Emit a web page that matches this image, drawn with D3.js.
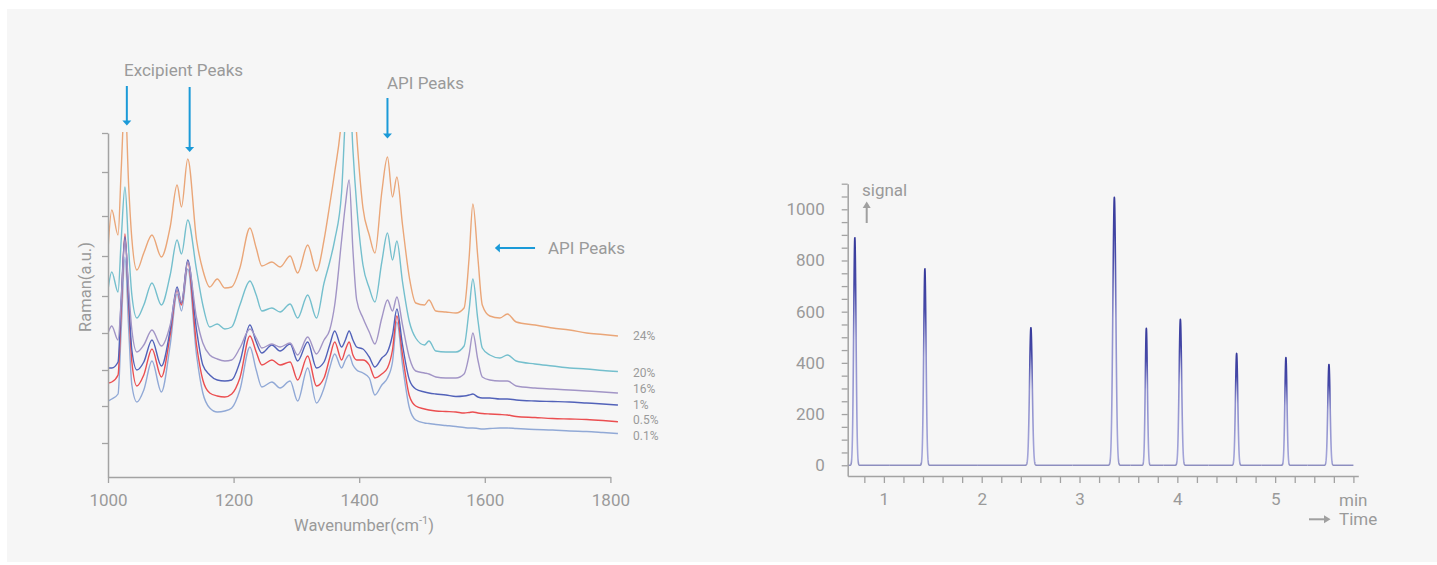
<!DOCTYPE html>
<html>
<head>
<meta charset="utf-8">
<script src="https://cdn.jsdelivr.net/npm/d3@7"></script>
<style>
  html, body { margin: 0; padding: 0; background: #ffffff; }
  svg { display: block; font-family: Roboto, "Noto Sans", sans-serif; }
</style>
</head>
<body>
<svg id="chart" width="1437" height="565"></svg>
<script>
// ---------- Raman spectra (relative intensity, a.u.) ----------
const wavenumbers = [1000, 1006, 1016, 1021, 1027, 1033, 1038, 1046, 1057, 1070,
  1085, 1099, 1110, 1117, 1127, 1141, 1151, 1162, 1174, 1186,
  1197, 1210, 1226, 1236, 1245, 1261, 1274, 1290, 1302, 1318,
  1332, 1344, 1353, 1361, 1372, 1378, 1384, 1390, 1396, 1406,
  1416, 1425, 1436, 1445, 1453, 1460, 1469, 1480, 1490, 1504,
  1511, 1522, 1538, 1554, 1567, 1575, 1581, 1589, 1596, 1608,
  1624, 1636, 1650, 1680, 1708, 1735, 1762, 1788, 1812];

const api24 = [227, 267, 242, 307, 380, 290, 238, 207, 224, 242,
  220, 250, 292, 270, 318, 237, 207, 190, 198, 189,
  190, 209, 249, 229, 211, 215, 210, 221, 204, 232,
  206, 237, 272, 305, 360, 420, 450, 400, 342, 269,
  242, 224, 285, 320, 280, 300, 252, 199, 174, 172,
  177, 166, 165, 164, 169, 219, 273, 219, 172, 161,
  159, 163, 155, 152, 149, 147, 144, 142.5, 141];

const api20 = [187, 205, 185, 237, 290, 227, 182, 159, 172, 194,
  172, 202, 237, 223, 257, 207, 172, 150, 153, 148,
  150, 172, 196, 182, 166, 169, 165, 173, 159, 182,
  159, 194, 215, 237, 285, 360, 400, 327, 272, 212,
  189, 175, 215, 244, 217, 236, 195, 155, 139, 132,
  136, 126, 125, 125, 131, 167, 198, 157, 129, 122,
  119, 122, 116, 113, 111, 109, 108, 106.5, 105.5];

const api16 = [144, 151, 137, 177, 237, 187, 147, 125, 132, 147,
  131, 152, 187, 175, 215, 159, 134, 122, 118, 116,
  117, 129, 148, 139, 129, 133, 130, 134, 122, 140,
  123, 137, 147, 172, 237, 272, 297, 227, 177, 159,
  145, 133, 159, 177, 166, 180, 152, 119, 106, 104,
  103, 100, 99, 99, 103, 122, 144, 117, 100, 97,
  96, 96, 91, 89, 88, 87, 86, 85, 84];

const api1 = [109, 109, 115, 177, 240, 177, 127, 107, 115, 137,
  111, 147, 190, 174, 217, 147, 112, 102, 97, 96,
  97, 115, 152, 135, 124, 132, 126, 133, 116, 135,
  109, 115, 132, 146, 130, 137, 146, 137, 130, 128,
  120, 110, 119, 125, 142, 168, 132, 97, 88, 85,
  84, 83, 82, 80.5, 81, 82, 83, 80, 79, 79,
  78, 78, 77, 76, 75.5, 75, 74, 73, 72];

const api05 = [94, 95, 102, 167, 243, 172, 115, 91, 102, 128,
  100, 142, 187, 172, 215, 132, 97, 84, 81, 80,
  83, 99, 141, 125, 112, 117, 112, 115, 97, 121,
  91, 99, 119, 135, 117, 127, 135, 122, 117, 117,
  112, 99, 103, 109, 127, 161, 122, 81, 71, 68,
  67, 66, 65.5, 65, 64, 64.5, 65, 64, 63.5, 63,
  62.5, 62, 60.5, 59.5, 58.5, 58, 57.5, 56.5, 55.3];

const api01 = [76, 78, 83, 147, 220, 147, 92, 75, 87, 116,
  85, 132, 183, 166, 208, 122, 84, 69, 65, 66,
  69, 87, 130, 107, 90, 95, 89, 96, 76, 109,
  74, 89, 109, 123, 109, 117, 122, 112, 107, 104,
  99, 82, 92, 99, 115, 155, 112, 69, 57, 54,
  53.5, 52.5, 51.5, 50.5, 49.5, 49, 49, 48.5, 48, 48.5,
  49, 49, 48.5, 47.5, 47, 46, 45.5, 44.5, 43.5];

const concentrations = ["24%", "20%", "16%", "1%", "0.5%", "0.1%"];
const ramanTicksX = [1000, 1200, 1400, 1600, 1800];
const ramanTicksY = [34, 71, 107, 144, 181, 221, 261, 305, 344];

// ---------- Chromatogram ----------
const retentionTimes = [0.703, 1.419, 2.503, 3.356, 3.683, 4.031, 4.606, 5.110, 5.550];
const peakHeights    = [890, 768, 538, 1047, 535, 570, 437, 421, 394];
const peakWidths     = [0.012, 0.012, 0.014, 0.015, 0.011, 0.013, 0.012, 0.011, 0.012];
const timeTicks      = [0.8, 1, 1.2, 1.4, 1.6, 1.8, 2, 2.2, 2.4, 2.6, 2.8, 3, 3.2, 3.4, 3.6,
                        3.8, 4, 4.2, 4.4, 4.6, 4.8, 5, 5.2, 5.4, 5.6, 5.8];
const signalTicks    = d3.range(0, 1101, 50);

// ---------- drawing ----------
const svg = d3.select("#chart");
const TEXT = "#9a9a9a";
const AXIS = "#a3a3a3";

svg.append("rect")
  .attr("x", 7).attr("y", 9).attr("width", 1430).attr("height", 553)
  .attr("fill", "#f6f6f6");

const defs = svg.append("defs");

// ===== Left panel: Raman spectra =====
const x = d3.scaleLinear().domain([1000, 1800]).range([108, 610.4]);
const y = d3.scaleLinear().domain([0, 344]).range([477, 133]);

defs.append("clipPath").attr("id", "ramanClip")
  .append("rect").attr("x", 108).attr("y", 132).attr("width", 540).attr("height", 346);

const seriesColors = ["#eaa678", "#74bfcd", "#a295c6", "#5262b9", "#eb4e50", "#91a9d6"];
const seriesValues = [api24, api20, api16, api1, api05, api01];
const labelNudge = [0, 1, -4, 0, -1.5, 2.5];

const series = concentrations.map((name, i) => ({
  name,
  color: seriesColors[i],
  points: wavenumbers.map((w, j) => [w, seriesValues[i][j]])
}));

const line = d3.line()
  .x(d => x(d[0]))
  .y(d => y(d[1]))
  .curve(d3.curveMonotoneX);

const specG = svg.append("g").attr("clip-path", "url(#ramanClip)");
// draw bottom spectra first so the upper ones sit on top
series.slice().reverse().forEach(s => {
  specG.append("path")
    .attr("d", line(s.points))
    .attr("fill", "none")
    .attr("stroke", s.color)
    .attr("stroke-width", 1.4)
    .attr("stroke-linejoin", "round");
});

// concentration labels at the end of each trace
series.forEach((s, i) => {
  const last = s.points[s.points.length - 1];
  svg.append("text")
    .attr("x", 633)
    .attr("y", y(last[1]) + labelNudge[i])
    .attr("dy", "0.35em")
    .attr("font-size", 12)
    .attr("fill", TEXT)
    .text(s.name);
});

// axes
const yAxisL = svg.append("g")
  .attr("transform", `translate(${x(1000)},0)`)
  .call(d3.axisLeft(y).tickValues(ramanTicksY).tickSize(6).tickSizeOuter(0).tickFormat(""));
const xAxisL = svg.append("g")
  .attr("transform", `translate(0,${y(0)})`)
  .call(d3.axisBottom(x).tickValues(ramanTicksX).tickSize(6).tickSizeOuter(0).tickPadding(11)
    .tickFormat(d3.format("d")));

[yAxisL, xAxisL].forEach(g => {
  g.select(".domain").attr("stroke", AXIS).attr("stroke-width", 1.5);
  g.selectAll(".tick line").attr("stroke", AXIS).attr("stroke-width", 1.3);
  g.selectAll(".tick text").attr("fill", TEXT).attr("font-size", 17)
    .attr("font-family", "Roboto, sans-serif");
});

svg.append("text")
  .attr("transform", `translate(91,287) rotate(-90)`)
  .attr("text-anchor", "middle")
  .attr("font-size", 16.5)
  .attr("fill", TEXT)
  .text("Raman(a.u.)");

const wl = svg.append("text")
  .attr("x", 364).attr("y", 531)
  .attr("text-anchor", "middle")
  .attr("font-size", 16.5)
  .attr("fill", TEXT);
wl.append("tspan").text("Wavenumber(cm");
wl.append("tspan").attr("font-size", 11).attr("dy", -7).text("-1");
wl.append("tspan").attr("dy", 7).text(")");

// annotation arrows
const BLUE = "#1b9ad8";
function downArrow(cx, y0, tip) {
  svg.append("line").attr("x1", cx).attr("x2", cx).attr("y1", y0).attr("y2", tip - 4)
    .attr("stroke", BLUE).attr("stroke-width", 2);
  svg.append("path")
    .attr("d", `M${cx - 4.5},${tip - 5}L${cx + 4.5},${tip - 5}L${cx},${tip}Z`)
    .attr("fill", BLUE);
}
function leftArrow(x0, tip, cy) {
  svg.append("line").attr("x1", x0).attr("x2", tip + 4).attr("y1", cy).attr("y2", cy)
    .attr("stroke", BLUE).attr("stroke-width", 2);
  svg.append("path")
    .attr("d", `M${tip + 5},${cy - 4.5}L${tip + 5},${cy + 4.5}L${tip},${cy}Z`)
    .attr("fill", BLUE);
}
downArrow(x(1030), 86, 125.5);
downArrow(x(1130), 87, 152);
downArrow(x(1445), 98, 138.5);
leftArrow(x(1680), x(1616), y(229));

svg.append("text").attr("x", 124).attr("y", 76).attr("font-size", 17).attr("fill", TEXT)
  .text("Excipient Peaks");
svg.append("text").attr("x", 387).attr("y", 88.5).attr("font-size", 17).attr("fill", TEXT)
  .text("API Peaks");
svg.append("text").attr("x", 548).attr("y", y(229)).attr("dy", "0.35em")
  .attr("font-size", 17).attr("fill", TEXT).text("API Peaks");

// ===== Right panel: chromatogram =====
const xc = d3.scaleLinear().domain([0.63, 5.85]).range([847.7, 1358.3]);
const yc = d3.scaleLinear().domain([-42, 1100]).range([476, 183.7]);

const signalAt = t => d3.sum(retentionTimes,
  (rt, i) => peakHeights[i] * Math.exp(-0.5 * ((t - rt) / peakWidths[i]) ** 2));

// one path per peak window so each gets its own top-to-base shading
const bounds = [0.63];
for (let i = 0; i < retentionTimes.length - 1; i++) {
  bounds.push((retentionTimes[i] + retentionTimes[i + 1]) / 2);
}
bounds.push(5.80);

const grad = defs.append("linearGradient").attr("id", "peakShade")
  .attr("x1", 0).attr("y1", 0).attr("x2", 0).attr("y2", 1);
grad.append("stop").attr("offset", 0).attr("stop-color", "#373a9b");
grad.append("stop").attr("offset", 0.22).attr("stop-color", "#474aa8");
grad.append("stop").attr("offset", 0.45).attr("stop-color", "#8e8fcd");
grad.append("stop").attr("offset", 0.97).attr("stop-color", "#a4a5d9");
grad.append("stop").attr("offset", 1).attr("stop-color", "#8d8ebf");

const cLine = d3.line().x(d => xc(d[0])).y(d => yc(d[1]));
for (let i = 0; i < retentionTimes.length; i++) {
  const t0 = bounds[i], t1 = bounds[i + 1];
  const n = Math.round((t1 - t0) / 0.0015);
  const pts = d3.range(n + 1).map(k => {
    const t = t0 + (t1 - t0) * k / n;
    return [t, signalAt(t)];
  });
  svg.append("path")
    .attr("d", cLine(pts))
    .attr("fill", "none")
    .attr("stroke", "url(#peakShade)")
    .attr("stroke-width", 1.6)
    .attr("stroke-linejoin", "round");
}

const yAxisR = svg.append("g")
  .attr("transform", `translate(${xc(0.63)},0)`)
  .call(d3.axisLeft(yc).tickValues(signalTicks).tickSize(6).tickSizeOuter(0).tickPadding(17)
    .tickFormat(d => d % 200 === 0 ? d : ""));
const xAxisR = svg.append("g")
  .attr("transform", `translate(0,${yc(-42)})`)
  .call(d3.axisBottom(xc).tickValues(timeTicks).tickSize(7).tickSizeOuter(0).tickPadding(10)
    .tickFormat(d => Math.abs(d - Math.round(d)) < 1e-6 ? Math.round(d) : ""));

[yAxisR, xAxisR].forEach(g => {
  g.select(".domain").attr("stroke", AXIS).attr("stroke-width", 1.5);
  g.selectAll(".tick line").attr("stroke", AXIS).attr("stroke-width", 1.3);
  g.selectAll(".tick text").attr("fill", TEXT).attr("font-size", 17)
    .attr("font-family", "Roboto, sans-serif");
});

const GREY = "#a0a0a0";
svg.append("text").attr("x", 862).attr("y", 190).attr("dy", "0.35em")
  .attr("font-size", 17).attr("fill", TEXT).text("signal");
svg.append("line").attr("x1", 866.7).attr("x2", 866.7).attr("y1", 223).attr("y2", 207)
  .attr("stroke", GREY).attr("stroke-width", 2);
svg.append("path").attr("d", "M862.7,208L870.7,208L866.7,201.5Z").attr("fill", GREY);

svg.append("text").attr("x", 1339).attr("y", 500).attr("dy", "0.35em")
  .attr("font-size", 17).attr("fill", TEXT).text("min");
svg.append("line").attr("x1", 1309).attr("x2", 1325).attr("y1", 519.3).attr("y2", 519.3)
  .attr("stroke", GREY).attr("stroke-width", 2);
svg.append("path").attr("d", "M1324,515.3L1324,523.3L1330.5,519.3Z").attr("fill", GREY);
svg.append("text").attr("x", 1339).attr("y", 519.3).attr("dy", "0.35em")
  .attr("font-size", 17).attr("fill", TEXT).text("Time");
</script>
</body>
</html>
